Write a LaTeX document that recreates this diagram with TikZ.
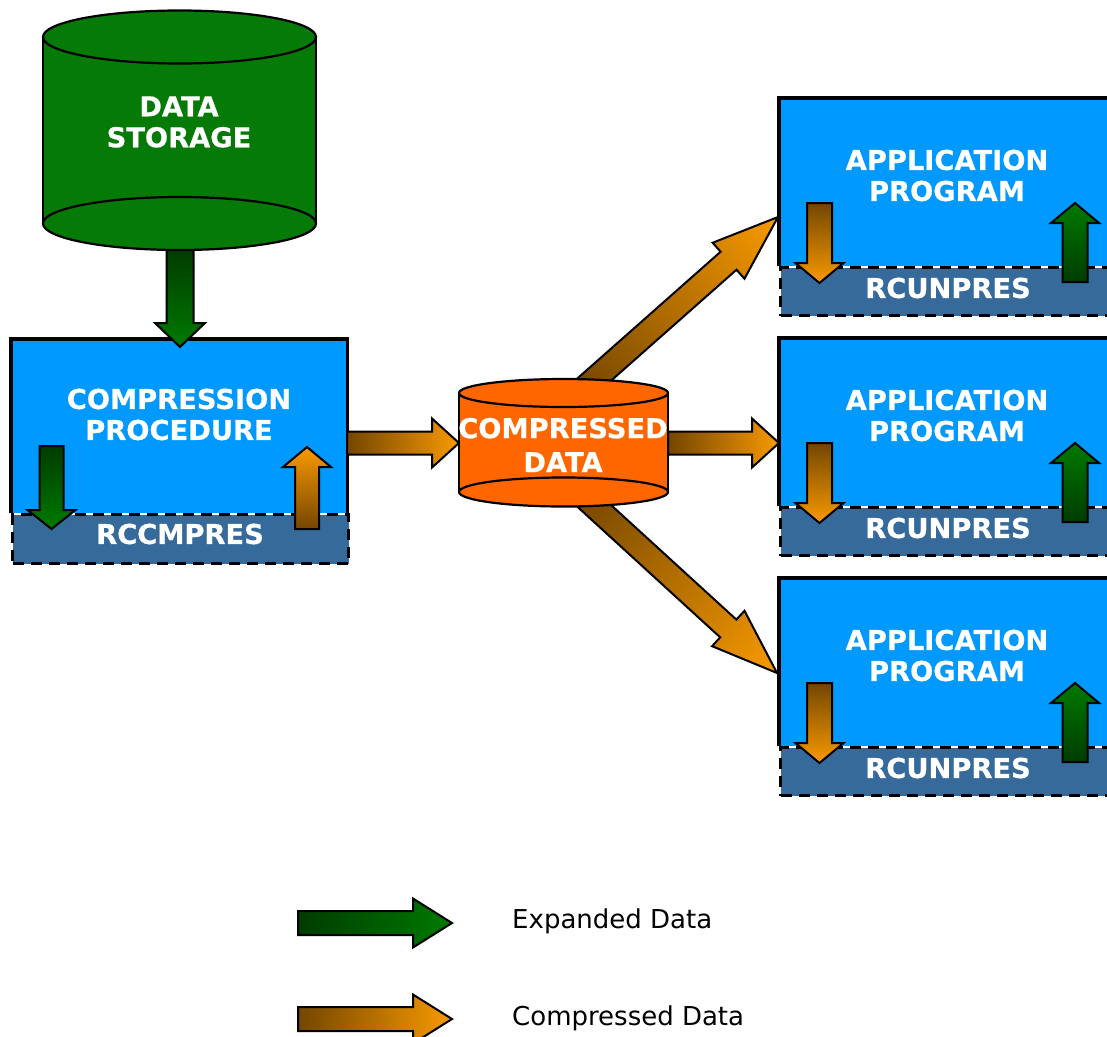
\documentclass[tikz,border=0pt]{standalone}
\usepackage{fontspec}
\setmainfont{DejaVu Sans}
\newfontfamily\lblfont[FakeBold=0.6]{DejaVu Sans Bold}
\definecolor{boxblue}{HTML}{0099FF}
\definecolor{bandblue}{HTML}{366A9A}
\definecolor{dsgreen}{HTML}{067A06}
\definecolor{cylorange}{HTML}{FF6600}
\definecolor{grtail}{HTML}{003C00}
\definecolor{grhead}{HTML}{007A00}
\definecolor{ortail}{HTML}{744600}
\definecolor{orhead}{HTML}{F89A00}

% #1 tail coordinate, #2 tip coordinate, #3 shaft half width, #4 head half width,
% #5 head length, #6 tail colour, #7 head colour
\newcommand\blockarrow[7]{%
  \pgfpointanchor{#1}{center}\pgfgetlastxy\baX\baY
  \pgfpointanchor{#2}{center}\pgfgetlastxy\bbX\bbY
  \pgfmathsetmacro\baAng{atan2(\bbY-\baY,\bbX-\baX)}%
  \pgfmathsetmacro\baLen{veclen(\bbX-\baX,\bbY-\baY)}%
  \shade[arrowline, left color=#6, right color=#7,
    transform canvas={shift={(\baX,\baY)},rotate=\baAng}]
    (0,#3) -- (\baLen-#5,#3) -- (\baLen-#5,#4) -- (\baLen,0)
    -- (\baLen-#5,-#4) -- (\baLen-#5,-#3) -- (0,-#3) -- cycle;
}

\begin{document}
\begin{tikzpicture}[x=1pt,y=-1pt,
  arrowline/.style={draw=black, line width=2pt, line join=miter},
  boxfill/.style={fill=boxblue, draw=none, inner sep=0pt, anchor=north west},
  boxline/.style={draw=black, line width=3.2pt},
  bandbox/.style={fill=bandblue, draw=black, line width=3.2pt,
    dash pattern=on 11pt off 7pt, inner sep=0pt, anchor=north west},
  cylline/.style={draw=black, line width=2.2pt},
  lbl/.style={text=white, font=\lblfont\fontsize{27.3}{31}\selectfont,
    align=center, inner sep=0pt},
  legendtxt/.style={font=\fontsize{26}{31}\selectfont, anchor=base west,
    inner sep=0pt, text=black}]
\path[use as bounding box] (0,0) rectangle (1107,1036);
\clip (0,0) rectangle (1107,1036);

% ---------- data storage cylinder ----------
\fill[dsgreen] (43,37) rectangle (316,223.5);
\fill[dsgreen] (179.5,223.5) ellipse[x radius=136.5pt, y radius=26.5pt];
\draw[cylline] (179.5,223.5) ellipse[x radius=136.5pt, y radius=26.5pt];
\draw[cylline] (43,37) -- (43,223.5) (316,37) -- (316,223.5);
\filldraw[fill=dsgreen, cylline] (179.5,37) ellipse[x radius=136.5pt, y radius=26.5pt];
\node[lbl] (ds) at (179,122) {DATA\\STORAGE};
\coordinate (dsout) at (180,250);

% ---------- compression procedure box ----------
\node[boxfill, minimum width=336pt, minimum height=174pt] (comp) at (11,339) {};
\draw[boxline] (comp.south west) -- (comp.north west) -- (comp.north east) -- (comp.south east);
\node[bandbox, minimum width=336pt, minimum height=49pt] (rcc) at (11,513) {};
\node[lbl] (complbl) at (179,414.5) {COMPRESSION\\PROCEDURE};
\node[lbl] (rcclbl) at (180,534) {RCCMPRES};

% ---------- application program boxes ----------
\foreach \k in {0,1,2}{
  \pgfmathsetmacro\oy{240*\k}
  \node[boxfill, minimum width=340pt, minimum height=168pt] (app\k) at (779,98+\oy) {};
  \draw[boxline] (app\k.south west) -- (app\k.north west) -- (app\k.north east);
  \node[bandbox, minimum width=340pt, minimum height=48pt] (rcu\k) at (779,266+\oy) {};
  \node[lbl] (applbl\k) at (947,175.5+\oy) {APPLICATION\\PROGRAM};
  \node[lbl] (rculbl\k) at (948,288+\oy) {RCUNPRES};
  \coordinate (adt\k) at (819.5,203+\oy);
  \coordinate (adh\k) at (819.5,283+\oy);
  \coordinate (aut\k) at (1075,282+\oy);
  \coordinate (auh\k) at (1075,203+\oy);
  \blockarrow{adt\k}{adh\k}{12.5}{24}{20}{ortail}{orhead}
  \blockarrow{aut\k}{auh\k}{12.5}{24}{20}{grtail}{grhead}
}

% ---------- diagonal arrows (behind the compressed data cylinder) ----------
\coordinate (cdtop) at (579,393);
\coordinate (cdbot) at (579,492);
\coordinate (app0in) at (778,217);
\coordinate (app2in) at (777,673);
\blockarrow{cdtop}{app0in}{12}{24}{66}{ortail}{orhead}
\blockarrow{cdbot}{app2in}{12}{24}{66}{ortail}{orhead}

% ---------- compressed data cylinder ----------
\fill[cylorange] (459,393) rectangle (668,492);
\fill[cylorange] (563.5,492) ellipse[x radius=104.5pt, y radius=14.5pt];
\draw[cylline] (563.5,492) ellipse[x radius=104.5pt, y radius=14.5pt];
\draw[cylline] (459,393) -- (459,492) (668,393) -- (668,492);
\filldraw[fill=cylorange, cylline] (563.5,393) ellipse[x radius=104.5pt, y radius=14pt];
\node[lbl, font=\lblfont\fontsize{27.3}{34}\selectfont] (cd) at (563,445) {COMPRESSED\\DATA};

% ---------- arrows ----------
\coordinate (compin) at (180,347);
\blockarrow{dsout}{compin}{13.5}{25}{24}{grtail}{grhead}

\coordinate (cgt) at (51.5,446);
\coordinate (cgh) at (51.5,529);
\coordinate (cot) at (307,529);
\coordinate (coh) at (307,447);
\blockarrow{cgt}{cgh}{12}{24}{19}{grtail}{grhead}
\blockarrow{cot}{coh}{12}{24}{20}{ortail}{orhead}

\coordinate (compout) at (347,443);
\coordinate (cdin) at (459,443);
\coordinate (cdout) at (668,443);
\coordinate (app1in) at (779,443);
\blockarrow{compout}{cdin}{11.5}{24.5}{27}{ortail}{orhead}
\blockarrow{cdout}{app1in}{11.5}{24.5}{27}{ortail}{orhead}

% ---------- legend ----------
\coordinate (lgt1) at (298,923);
\coordinate (lgh1) at (452,923);
\coordinate (lgt2) at (298,1019);
\coordinate (lgh2) at (452,1019);
\blockarrow{lgt1}{lgh1}{12}{24.5}{39}{grtail}{grhead}
\blockarrow{lgt2}{lgh2}{12}{24.5}{39}{ortail}{orhead}
\node[legendtxt] (lg1) at (512,928) {Expanded Data};
\node[legendtxt] (lg2) at (512,1025) {Compressed Data};
\end{tikzpicture}
\end{document}
